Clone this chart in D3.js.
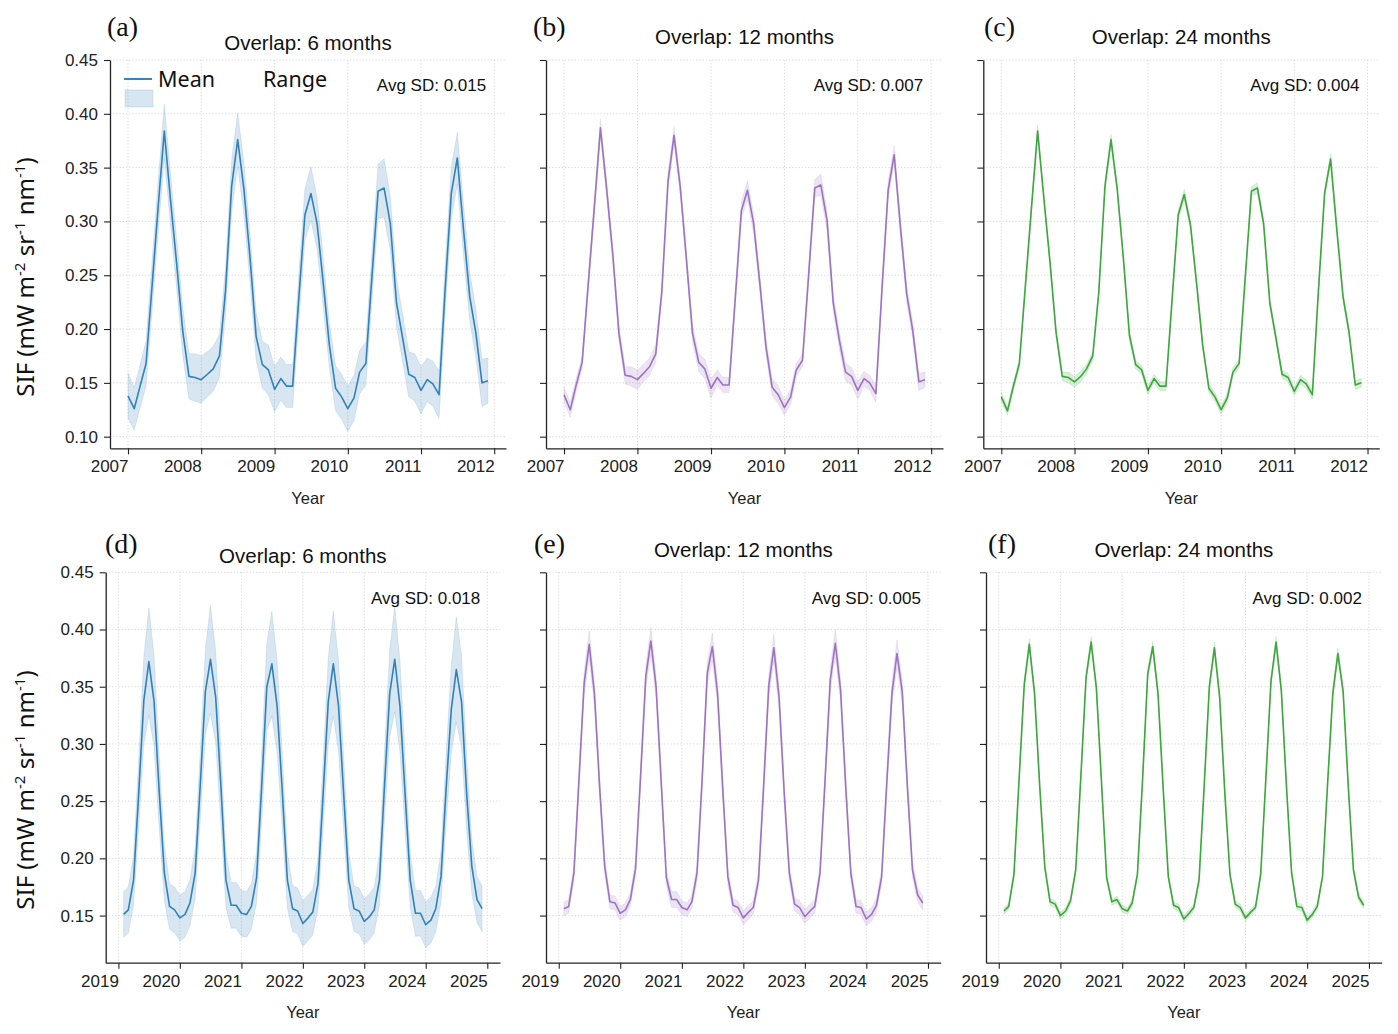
<!DOCTYPE html>
<html>
<head>
<meta charset="utf-8">
<script src="https://cdn.jsdelivr.net/npm/d3@7"></script>
<style>
  body { margin: 0; background: #fff; }
</style>
</head>
<body>
<svg id="fig" width="1398" height="1034" font-family="'Liberation Sans', Arial, sans-serif"></svg>
<script>
// first month of each series (monthly data)
const topStart = new Date(2007, 0, 1);
const bottomStart = new Date(2019, 1, 1);

const topYears = [2007, 2008, 2009, 2010, 2011, 2012];
const bottomYears = [2019, 2020, 2021, 2022, 2023, 2024, 2025];
const topYTicks = [0.10, 0.15, 0.20, 0.25, 0.30, 0.35, 0.40, 0.45];
const bottomYTicks = [0.15, 0.20, 0.25, 0.30, 0.35, 0.40, 0.45];

const titles = ["Overlap: 6 months", "Overlap: 12 months", "Overlap: 24 months"];
const panelLetters = ["(a)", "(b)", "(c)", "(d)", "(e)", "(f)"];
const avgSD = ["0.015", "0.007", "0.004", "0.018", "0.005", "0.002"];
const colors = ["#1f77b4", "#9467bd", "#2ca02c"];

// 2007-01 .. 2011-12
const meanA = [0.138,0.126,0.146,0.168,0.240,0.315,0.384,0.320,0.260,0.198,0.156,0.155,
  0.153,0.158,0.163,0.175,0.235,0.333,0.376,0.330,0.265,0.193,0.167,0.162,
  0.144,0.154,0.147,0.147,0.227,0.306,0.326,0.298,0.242,0.185,0.145,0.137,
  0.126,0.136,0.160,0.168,0.248,0.328,0.331,0.298,0.224,0.192,0.158,0.155,
  0.143,0.153,0.149,0.139,0.236,0.326,0.359,0.292,0.230,0.197,0.150,0.152];
const spreadA = [0.021,0.020,0.020,0.021,0.023,0.024,0.025,0.024,0.023,0.022,0.021,0.022,
  0.022,0.021,0.021,0.020,0.022,0.024,0.025,0.024,0.023,0.022,0.022,0.023,
  0.021,0.020,0.020,0.020,0.022,0.024,0.025,0.024,0.023,0.021,0.021,0.021,
  0.021,0.021,0.020,0.020,0.023,0.025,0.027,0.025,0.023,0.022,0.021,0.022,
  0.022,0.020,0.021,0.022,0.023,0.024,0.024,0.024,0.023,0.022,0.022,0.021];

const meanB = [0.139,0.125,0.147,0.169,0.241,0.314,0.387,0.330,0.268,0.196,0.157,0.156,
  0.153,0.159,0.165,0.177,0.234,0.337,0.380,0.332,0.264,0.196,0.169,0.163,
  0.145,0.155,0.148,0.148,0.227,0.310,0.329,0.298,0.242,0.184,0.146,0.139,
  0.127,0.137,0.162,0.171,0.249,0.331,0.334,0.301,0.224,0.190,0.160,0.156,
  0.143,0.154,0.150,0.140,0.236,0.329,0.362,0.295,0.233,0.199,0.151,0.153];
const spreadB = [0.007,0.007,0.006,0.006,0.007,0.008,0.008,0.008,0.007,0.007,0.008,0.009,
  0.009,0.008,0.008,0.008,0.007,0.008,0.008,0.008,0.007,0.008,0.008,0.009,
  0.009,0.007,0.007,0.007,0.007,0.008,0.009,0.009,0.008,0.008,0.008,0.008,
  0.007,0.007,0.006,0.006,0.007,0.008,0.010,0.009,0.008,0.008,0.008,0.008,
  0.008,0.007,0.007,0.008,0.008,0.008,0.008,0.008,0.008,0.008,0.008,0.007];

const meanC = [0.137,0.124,0.146,0.168,0.240,0.314,0.384,0.322,0.262,0.197,0.156,0.155,
  0.151,0.156,0.163,0.175,0.234,0.333,0.376,0.330,0.265,0.194,0.167,0.162,
  0.143,0.154,0.147,0.147,0.226,0.306,0.325,0.297,0.242,0.185,0.145,0.137,
  0.125,0.136,0.160,0.168,0.247,0.328,0.331,0.298,0.224,0.192,0.158,0.155,
  0.142,0.153,0.149,0.139,0.235,0.326,0.358,0.292,0.230,0.197,0.148,0.150];
const spreadC = [0.004,0.004,0.004,0.004,0.004,0.004,0.005,0.004,0.004,0.004,0.004,0.005,
  0.005,0.005,0.004,0.004,0.004,0.004,0.005,0.004,0.004,0.004,0.004,0.004,
  0.004,0.004,0.004,0.004,0.004,0.004,0.005,0.004,0.004,0.004,0.004,0.004,
  0.004,0.004,0.004,0.004,0.004,0.004,0.005,0.004,0.004,0.004,0.004,0.004,
  0.004,0.004,0.004,0.004,0.004,0.004,0.005,0.004,0.004,0.004,0.004,0.004];

// 2019-02 .. 2024-12
const meanD = [0.151,0.155,0.181,0.255,0.338,0.372,0.337,0.257,0.187,0.158,0.155,
  0.148,0.151,0.161,0.187,0.263,0.346,0.374,0.341,0.263,0.181,0.159,0.159,
  0.152,0.151,0.158,0.183,0.262,0.350,0.370,0.333,0.258,0.181,0.156,0.154,
  0.143,0.148,0.153,0.178,0.255,0.337,0.370,0.333,0.255,0.181,0.156,0.154,
  0.145,0.149,0.155,0.181,0.263,0.344,0.374,0.333,0.255,0.181,0.152,0.152,
  0.142,0.146,0.156,0.184,0.260,0.330,0.365,0.337,0.255,0.193,0.164,0.156];
const spreadD = [0.020,0.020,0.022,0.030,0.038,0.047,0.040,0.032,0.024,0.020,0.020,
  0.020,0.020,0.020,0.022,0.030,0.038,0.047,0.040,0.032,0.024,0.020,0.020,
  0.020,0.020,0.020,0.022,0.030,0.038,0.046,0.040,0.032,0.024,0.020,0.020,
  0.020,0.020,0.020,0.022,0.030,0.038,0.046,0.040,0.032,0.024,0.020,0.020,
  0.020,0.020,0.020,0.022,0.030,0.038,0.046,0.040,0.032,0.024,0.020,0.020,
  0.020,0.020,0.020,0.022,0.030,0.038,0.046,0.040,0.032,0.024,0.020,0.020];

const meanE = [0.156,0.158,0.187,0.268,0.353,0.387,0.344,0.262,0.193,0.162,0.161,
  0.152,0.155,0.164,0.191,0.272,0.359,0.390,0.350,0.265,0.183,0.164,0.164,
  0.157,0.155,0.162,0.187,0.268,0.362,0.385,0.344,0.260,0.184,0.159,0.157,
  0.148,0.153,0.157,0.181,0.262,0.351,0.384,0.341,0.256,0.187,0.160,0.157,
  0.149,0.154,0.158,0.187,0.268,0.356,0.388,0.347,0.262,0.187,0.158,0.157,
  0.147,0.151,0.159,0.184,0.265,0.344,0.379,0.346,0.262,0.190,0.168,0.161];
const spreadE = [0.006,0.006,0.007,0.009,0.010,0.012,0.010,0.009,0.007,0.006,0.006,
  0.006,0.006,0.006,0.007,0.009,0.010,0.012,0.010,0.009,0.007,0.007,0.007,
  0.006,0.006,0.006,0.007,0.009,0.010,0.012,0.010,0.009,0.007,0.006,0.006,
  0.006,0.006,0.006,0.007,0.009,0.010,0.012,0.010,0.009,0.007,0.006,0.006,
  0.006,0.006,0.006,0.007,0.009,0.010,0.012,0.010,0.009,0.007,0.006,0.006,
  0.006,0.006,0.006,0.007,0.009,0.010,0.012,0.010,0.009,0.007,0.006,0.006];

const meanF = [0.154,0.158,0.186,0.268,0.352,0.387,0.344,0.262,0.192,0.162,0.160,
  0.150,0.154,0.163,0.190,0.271,0.358,0.389,0.349,0.265,0.183,0.162,0.164,
  0.156,0.154,0.161,0.186,0.267,0.361,0.385,0.344,0.260,0.184,0.159,0.157,
  0.147,0.152,0.157,0.181,0.262,0.350,0.384,0.341,0.256,0.186,0.160,0.157,
  0.148,0.153,0.157,0.186,0.268,0.355,0.389,0.347,0.262,0.187,0.158,0.157,
  0.146,0.151,0.158,0.184,0.265,0.344,0.379,0.346,0.262,0.190,0.166,0.159];
const spreadF = [0.003,0.003,0.003,0.004,0.004,0.005,0.004,0.004,0.003,0.003,0.003,
  0.003,0.003,0.003,0.003,0.004,0.004,0.005,0.004,0.004,0.003,0.003,0.003,
  0.003,0.003,0.003,0.003,0.004,0.004,0.005,0.004,0.004,0.003,0.003,0.003,
  0.003,0.003,0.003,0.003,0.004,0.004,0.005,0.004,0.004,0.003,0.003,0.003,
  0.003,0.003,0.003,0.003,0.004,0.004,0.005,0.004,0.004,0.003,0.003,0.003,
  0.003,0.003,0.003,0.003,0.004,0.004,0.005,0.004,0.004,0.003,0.003,0.003];

const svg = d3.select("#fig");

// axes boxes in page pixels
const panels = [
  { left: 110,   right: 506,    top: 60,    bottom: 448.3, start: topStart,    mean: meanA, spread: spreadA, years: topYears,    yTicks: topYTicks,    yMin: 0.0892, titleY: 50,    letterX: 107, letterY: 36 },
  { left: 546,   right: 943,    top: 60,    bottom: 448.3, start: topStart,    mean: meanB, spread: spreadB, years: topYears,    yTicks: topYTicks,    yMin: 0.0892, titleY: 43.5,  letterX: 533, letterY: 36 },
  { left: 983.3, right: 1379.3, top: 60,    bottom: 448.3, start: topStart,    mean: meanC, spread: spreadC, years: topYears,    yTicks: topYTicks,    yMin: 0.0892, titleY: 43.5,  letterX: 984, letterY: 36 },
  { left: 105.7, right: 500,    top: 572.3, bottom: 962.7, start: bottomStart, mean: meanD, spread: spreadD, years: bottomYears, yTicks: bottomYTicks, yMin: 0.1088, titleY: 562.7, letterX: 105, letterY: 553 },
  { left: 546,   right: 940.7,  top: 572.3, bottom: 962.7, start: bottomStart, mean: meanE, spread: spreadE, years: bottomYears, yTicks: bottomYTicks, yMin: 0.1088, titleY: 556.7, letterX: 534, letterY: 553 },
  { left: 986,   right: 1381.7, top: 572.3, bottom: 962.7, start: bottomStart, mean: meanF, spread: spreadF, years: bottomYears, yTicks: bottomYTicks, yMin: 0.1088, titleY: 556.7, letterX: 988, letterY: 553 }
];

panels.forEach((p, i) => draw(p, i));

function draw(p, i) {
  const col = i % 3;
  const color = colors[col];
  const data = p.mean.map((m, k) => ({
    date: d3.timeMonth.offset(p.start, k),
    mean: m,
    lo: m - p.spread[k],
    hi: m + p.spread[k]
  }));

  // matplotlib-style 5% margin on the date axis
  const t0 = data[0].date, t1 = data[data.length - 1].date;
  const pad = (t1 - t0) * 0.05;
  const x = d3.scaleTime()
    .domain([new Date(+t0 - pad), new Date(+t1 + pad)])
    .range([p.left, p.right]);
  const y = d3.scaleLinear()
    .domain([p.yMin, 0.45])
    .range([p.bottom, p.top]);
  const yearDates = p.years.map(yr => new Date(yr, 0, 1));

  const g = svg.append("g");

  // dotted grid
  g.append("g").selectAll("line").data(p.yTicks).join("line")
    .attr("x1", p.left).attr("x2", p.right)
    .attr("y1", d => y(d)).attr("y2", d => y(d))
    .attr("stroke", "#d4d4d4").attr("stroke-width", 0.9).attr("stroke-dasharray", "1.2,2");
  g.append("g").selectAll("line").data(yearDates).join("line")
    .attr("x1", d => x(d)).attr("x2", d => x(d))
    .attr("y1", p.top).attr("y2", p.bottom)
    .attr("stroke", "#d4d4d4").attr("stroke-width", 0.9).attr("stroke-dasharray", "1.2,2");

  // range band
  g.append("path").datum(data)
    .attr("fill", color).attr("fill-opacity", 0.18)
    .attr("stroke", color).attr("stroke-opacity", 0.12).attr("stroke-width", 1)
    .attr("d", d3.area().x(d => x(d.date)).y0(d => y(d.lo)).y1(d => y(d.hi)));

  // mean line
  g.append("path").datum(data)
    .attr("fill", "none").attr("stroke", color).attr("stroke-opacity", 0.9)
    .attr("stroke-width", 1.6).attr("stroke-linejoin", "round")
    .attr("d", d3.line().x(d => x(d.date)).y(d => y(d.mean)));

  // axes
  const yAxis = d3.axisLeft(y).tickValues(p.yTicks).tickSize(6).tickSizeOuter(0).tickPadding(6)
    .tickFormat(col === 0 ? d3.format(".2f") : () => "");
  const ay = g.append("g").attr("transform", `translate(${p.left},0)`).call(yAxis);
  const xAxis = d3.axisBottom(x).tickValues(yearDates).tickSize(6).tickSizeOuter(0).tickPadding(6)
    .tickFormat(d3.timeFormat("%Y"));
  const ax = g.append("g").attr("transform", `translate(0,${p.bottom})`).call(xAxis);
  [ay, ax].forEach(a => {
    a.attr("font-family", null).attr("font-size", null);
    a.select(".domain").attr("stroke", "#222").attr("stroke-width", 1.3);
    a.selectAll(".tick line").attr("stroke", "#222").attr("stroke-width", 1.1);
    a.selectAll(".tick text").attr("fill", "#222").attr("font-size", 17);
  });
  // year labels sit to the left of their tick (right-aligned)
  ax.selectAll(".tick text").attr("text-anchor", "end").attr("x", 0);

  const cx = (p.left + p.right) / 2;
  g.append("text").attr("x", cx).attr("y", p.bottom + 55.5)
    .attr("text-anchor", "middle").attr("font-size", 16.5).attr("fill", "#222").text("Year");

  g.append("text").attr("x", cx).attr("y", p.titleY)
    .attr("text-anchor", "middle").attr("font-size", 20.5).attr("fill", "#111").text(titles[col]);

  g.append("text").attr("x", p.letterX).attr("y", p.letterY)
    .attr("font-family", "'Liberation Serif', 'Times New Roman', serif")
    .attr("font-size", 28).attr("fill", "#111").text(panelLetters[i]);

  g.append("text").attr("x", p.right - (p.right - p.left) * 0.05)
    .attr("y", p.top + (p.bottom - p.top) * 0.05 + 12)
    .attr("text-anchor", "end").attr("font-size", 17).attr("fill", "#111")
    .text("Avg SD: " + avgSD[i]);

  if (col === 0) {
    const lab = g.append("text")
      .attr("transform", `translate(34,${i === 0 ? 277 : 790}) rotate(-90)`)
      .attr("text-anchor", "middle")
      .attr("font-family", "'Noto Sans', 'DejaVu Sans', sans-serif")
      .attr("font-size", 24).attr("fill", "#111");
    lab.append("tspan").text("SIF (mW m");
    lab.append("tspan").attr("font-size", 15).attr("dy", -9).text("-2");
    lab.append("tspan").attr("dy", 9).text(" sr");
    lab.append("tspan").attr("font-size", 15).attr("dy", -9).text("-1");
    lab.append("tspan").attr("dy", 9).text(" nm");
    lab.append("tspan").attr("font-size", 15).attr("dy", -9).text("-1");
    lab.append("tspan").attr("dy", 9).text(")");
  }

  if (i === 0) {
    // legend (upper left of panel a)
    const lg = g.append("g").attr("font-family", "'Noto Sans', 'DejaVu Sans', sans-serif");
    lg.append("line").attr("x1", 124).attr("x2", 152).attr("y1", 79).attr("y2", 79)
      .attr("stroke", color).attr("stroke-width", 1.8);
    lg.append("rect").attr("x", 125).attr("y", 90).attr("width", 28).attr("height", 17)
      .attr("fill", color).attr("fill-opacity", 0.18)
      .attr("stroke", color).attr("stroke-opacity", 0.15);
    lg.append("text").attr("x", 158).attr("y", 87).attr("font-size", 21.5).attr("fill", "#111").text("Mean");
    lg.append("text").attr("x", 263).attr("y", 87).attr("font-size", 21.5).attr("fill", "#111").text("Range");
  }
}
</script>
</body>
</html>
